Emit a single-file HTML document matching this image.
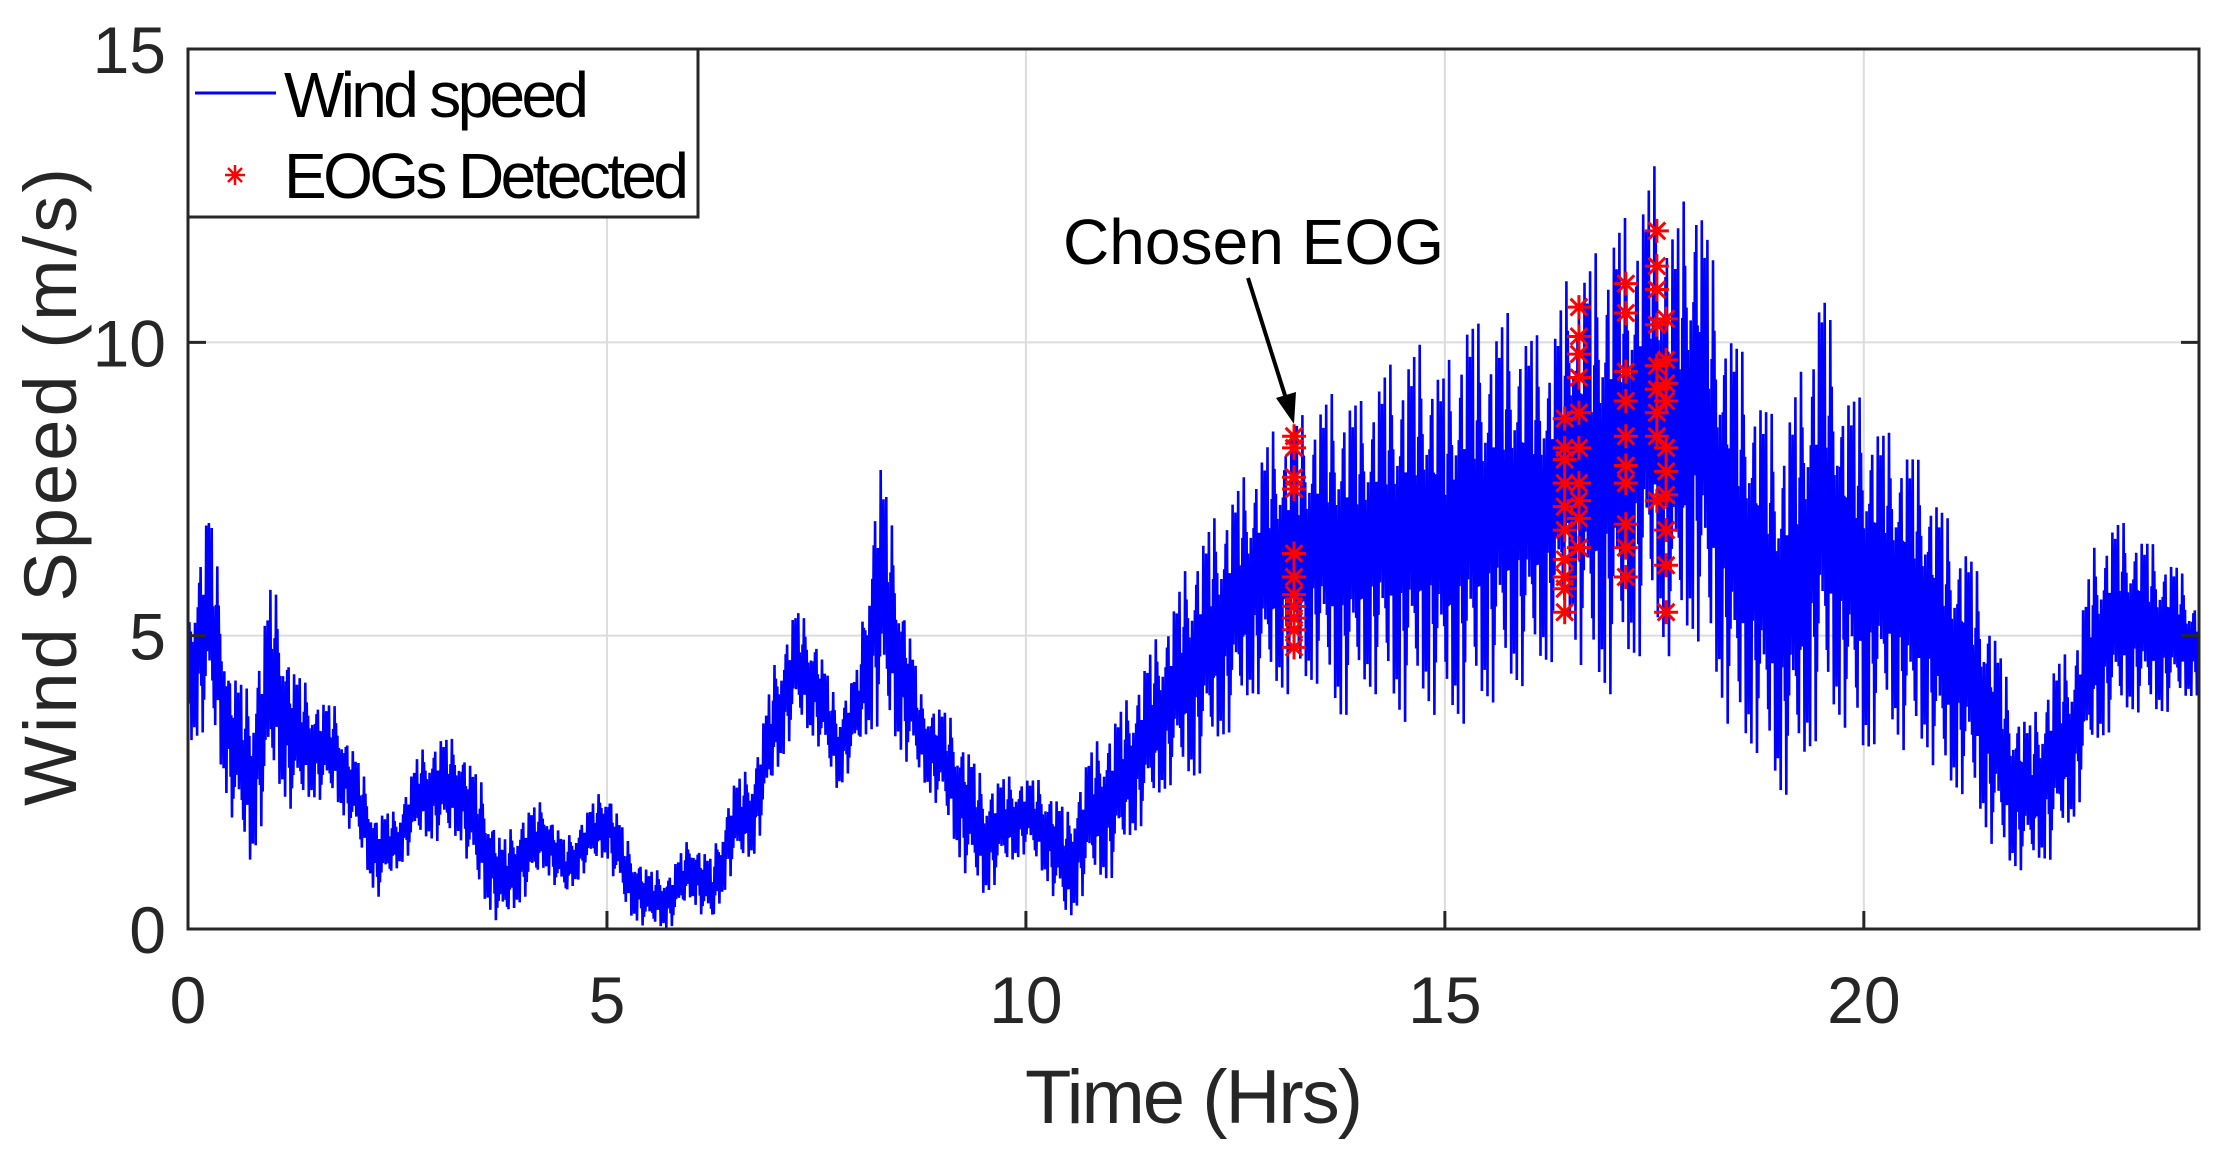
<!DOCTYPE html>
<html><head><meta charset="utf-8"><style>
html,body{margin:0;padding:0;background:#fff;}
svg{display:block;font-family:"Liberation Sans",Arial,sans-serif;}
</style></head><body>
<svg id="chart" width="2216" height="1162" viewBox="0 0 2216 1162" xmlns="http://www.w3.org/2000/svg">
<rect x="0" y="0" width="2216" height="1162" fill="#fff"/>
<g id="grid"></g>
<g id="series"></g>
<g id="eogs"></g>
<rect x="188" y="49" width="2011" height="880" fill="none" stroke="#262626" stroke-width="3"/>
<g id="ticks"></g>
<text x="1194" y="1123" font-size="76" text-anchor="middle" fill="#262626" textLength="338">Time (Hrs)</text>
<text transform="translate(76,487) rotate(-90)" font-size="74" text-anchor="middle" fill="#262626" textLength="638">Wind Speed  (m/s)</text>
<g>
<text x="1063" y="264" font-size="64" fill="#000" textLength="381">Chosen EOG</text>
<line x1="1248" y1="278" x2="1288" y2="405" stroke="#000" stroke-width="4"/>
<polygon points="1294,424 1276,398 1296,392" fill="#000"/>
</g>
<g>
<rect x="188" y="49" width="510" height="168" fill="#fff" stroke="#262626" stroke-width="3"/>
<line x1="195" y1="93" x2="276" y2="93" stroke="#0000ff" stroke-width="3"/>
<text x="284" y="117" font-size="64" fill="#000" textLength="305">Wind speed</text>
<g stroke="#ff0000" stroke-width="2.5">
<line x1="235" y1="165" x2="235" y2="185"/><line x1="225" y1="175" x2="245" y2="175"/><line x1="228" y1="168" x2="242" y2="182"/><line x1="242" y1="168" x2="228" y2="182"/>
</g>
<text x="284" y="198" font-size="64" fill="#000" textLength="405">EOGs Detected</text>
</g>
</svg>
<script>
const times = [0,0.25,0.5,0.75,1,1.25,1.5,1.75,2,2.25,2.5,2.75,3,3.25,3.5,3.75,4,4.25,4.5,4.75,5,5.25,5.5,5.75,6,6.25,6.5,6.75,7,7.25,7.5,7.75,8,8.25,8.5,8.75,9,9.25,9.5,9.75,10,10.25,10.5,10.75,11,11.25,11.5,11.75,12,12.25,12.5,12.75,13,13.25,13.5,13.75,14,14.25,14.5,14.75,15,15.25,15.5,15.75,16,16.25,16.5,16.75,17,17.25,17.5,17.75,18,18.25,18.5,18.75,19,19.25,19.5,19.75,20,20.25,20.5,20.75,21,21.25,21.5,21.75,22,22.25,22.5,22.75,23,23.25,23.5,23.75,24];
const speedLow = [3,3.5,2,1,2.5,2,2.2,2.2,1.5,0.5,1,1.5,1.5,1.5,0.5,0,0.5,1,0.5,1,1.2,0.2,0,0,0.5,0,1,1.2,2.5,3.5,3.2,2.3,3,3.5,3,2.5,2,1,0.5,1,1.3,0.8,0,0.8,0.8,1.5,2,2.5,2.5,3,3.5,4,4,4,4.2,3.5,4,4,3.5,3.8,3.5,3.5,3.8,4,4.2,4.5,5,4,4,4.5,5,4.5,5,4,3,3,2.2,2.5,3.5,3.5,2.8,3.5,3,3,2.3,2.3,1.5,1,1,1.2,1.8,3,3.5,3.7,3.6,3.8,4];
const speedHigh = [5.5,7.3,4.5,4,6,4.5,4,3.8,3,2,2,3,3.3,3.2,2.5,1.5,2,2.2,1.5,2,2.5,1.5,1,1,1.6,1.2,2.5,2.8,4.5,5.5,5,3.8,4.5,8.2,6,4,3.8,3.3,2.5,2.6,2.6,2.5,2,3,3.5,4,4.8,5.5,6.5,7,7.5,8,8.6,8.7,9,9.2,9,9.5,9.8,10,9.5,10.5,10.2,10.5,10.2,10,11.3,11.4,12,12.2,13,12,13,11,10,9.2,8.5,9.5,11.1,9.3,9,8.5,8.3,7.8,7,6.5,5.5,4,3.5,4.5,4.8,6.5,7,6.8,6.5,6.2,5.5];
const eogTimes = [13.2,13.2,13.2,13.2,13.2,13.2,13.2,13.2,13.2,13.2,13.2,16.43,16.43,16.43,16.43,16.43,16.43,16.43,16.43,16.43,16.43,16.6,16.6,16.6,16.6,16.6,16.6,16.6,16.6,16.6,16.6,17.16,17.16,17.16,17.16,17.16,17.16,17.16,17.16,17.16,17.16,17.53,17.53,17.53,17.53,17.53,17.53,17.53,17.53,17.53,17.64,17.64,17.64,17.64,17.64,17.64,17.64,17.64,17.64,17.64];
const eogValues = [8.4,8.2,7.7,7.5,6.4,6.0,5.7,5.5,5.3,5.1,4.8,8.7,8.2,8.0,7.6,7.2,6.8,6.3,6.0,5.8,5.4,10.6,10.1,9.8,9.4,8.8,8.2,7.6,7.3,7.0,6.5,11.0,10.5,9.5,9.0,8.4,7.9,7.6,6.9,6.5,6.0,11.9,11.3,10.9,10.3,9.6,9.2,8.8,8.4,7.3,10.4,9.7,9.3,9.0,8.2,7.8,7.4,6.8,6.2,5.4];
const xTicks = [0,5,10,15,20];
const yTicks = [0,5,10,15];

const X0=188, X1=2199, Y0=929, Y1=49, XMAX=24, YMAX=15;
const xs = t => X0 + (X1-X0)*t/XMAX;
const ys = v => Y0 - (Y0-Y1)*v/YMAX;
const NS='http://www.w3.org/2000/svg';
function mk(tag, attrs, parent){const e=document.createElementNS(NS,tag);for(const k in attrs)e.setAttribute(k,attrs[k]);parent.appendChild(e);return e;}

const grid=document.getElementById('grid');
xTicks.forEach(t=>{ if(t===0) return;
  const l=mk('line',{x1:xs(t),x2:xs(t),y1:Y1,y2:Y0,stroke:'#dcdcdc','stroke-width':2},grid);
  
  
});
yTicks.forEach(v=>{ if(v===0||v===YMAX) return;
  const l=mk('line',{x1:X0,x2:X1,y1:ys(v),y2:ys(v),stroke:'#dcdcdc','stroke-width':2},grid);
  
  
});

const series=document.getElementById('series');
const texture=[1,0.35,0.7,0.2,0.5,0.9,0.3,0.6,0.15,0.8,0.4,0.55,0.25,0.95,0.45,0.3,0.65,0.2,0.75,0.5,0.35];
let pts=[]; let k=0;
for(let i=0;i<times.length-1;i++){
  const steps=30;
  for(let s=0;s<steps;s++){
    const f=s/steps;
    const t=times[i]+(times[i+1]-times[i])*f;
    const lo=speedLow[i]+(speedLow[i+1]-speedLow[i])*f;
    const hi=speedHigh[i]+(speedHigh[i+1]-speedHigh[i])*f;
    const mid=(lo+hi)/2, half=(hi-lo)/2*texture[k%texture.length];
    const v=(k%2===0)?mid+half:mid-half;
    pts.push(xs(t).toFixed(1)+','+ys(v).toFixed(1));
    k++;
  }
}
const path=mk('polyline',{points:pts.join(' '),fill:'none',stroke:'#0000ff','stroke-width':2.6,'stroke-linejoin':'bevel'},series);



const eogs=document.getElementById('eogs');
eogTimes.forEach((t,i)=>{
  const cx=xs(t), cy=ys(eogValues[i]), r=12;
  const g=mk('g',{stroke:'#ff0000','stroke-width':3},eogs);
  
  
  mk('line',{x1:cx,y1:cy-r,x2:cx,y2:cy+r},g);
  mk('line',{x1:cx-r,y1:cy,x2:cx+r,y2:cy},g);
  mk('line',{x1:cx-r*0.7,y1:cy-r*0.7,x2:cx+r*0.7,y2:cy+r*0.7},g);
  mk('line',{x1:cx+r*0.7,y1:cy-r*0.7,x2:cx-r*0.7,y2:cy+r*0.7},g);
});

const ticks=document.getElementById('ticks');
xTicks.forEach(t=>{
  const l=mk('line',{x1:xs(t),x2:xs(t),y1:Y0,y2:Y0-18,stroke:'#262626','stroke-width':3},ticks);
  
  
  const tx=mk('text',{x:xs(t),y:1023,'font-size':66,'text-anchor':'middle',fill:'#262626'},ticks);
  tx.textContent=String(t);
  
  
});
yTicks.forEach(v=>{
  const l=mk('line',{x1:X0,x2:X0+18,y1:ys(v),y2:ys(v),stroke:'#262626','stroke-width':3},ticks);
  
  
  const r=mk('line',{x1:X1,x2:X1-18,y1:ys(v),y2:ys(v),stroke:'#262626','stroke-width':3},ticks);
  
  
  const tx=mk('text',{x:166,y:ys(v)+24,'font-size':66,'text-anchor':'end',fill:'#262626'},ticks);
  tx.textContent=String(v);
  
  
});
</script>
</body></html>
